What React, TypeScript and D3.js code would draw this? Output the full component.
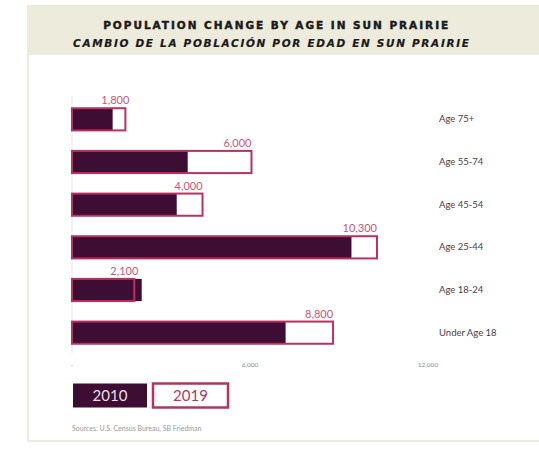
import React from "react";
import * as d3 from "d3";

const categories = ["Age 75+", "Age 55-74", "Age 45-54", "Age 25-44", "Age 18-24", "Under Age 18"];
const values2010 = [1370, 3900, 3530, 9420, 2350, 7200];
const values2019 = [1800, 6050, 4400, 10280, 2100, 8800];
const labels2019 = ["1,800", "6,000", "4,000", "10,300", "2,100", "8,800"];
const tickValues = [0, 6000, 12000];
const tickLabels = ["-", "6,000", "12,000"];
const legendLabels = ["2010", "2019"];
const title = "POPULATION CHANGE BY AGE IN SUN PRAIRIE";
const subtitle = "CAMBIO DE LA POBLACIÓN POR EDAD EN SUN PRAIRIE";
const source = "Sources: U.S. Census Bureau, SB Friedman";

const W = 539;
const H = 450;
const DARK = "#3d0d33";
const PINK = "#b8325f";
const PINK_TEXT = "#c8557d";
const BEIGE = "#ecebdc";

export default function App() {
  const x = d3.scaleLinear().domain([0, 12000]).range([72, 428]);
  const y = d3
    .scaleBand<string>()
    .domain(categories)
    .range([98, 354])
    .paddingInner(0.48)
    .paddingOuter(0.24);
  const bw = y.bandwidth();
  const font = "Lato, 'Open Sans', 'DejaVu Sans', sans-serif";
  const titleFont = "'DejaVu Sans', Roboto, sans-serif";

  return (
    <svg
      width={W}
      height={H}
      style={{ position: "absolute", left: 0, top: 0, background: "#fff" }}
      fontFamily={font}
    >
      {/* panel */}
      <rect x={28} y={6} width={W - 28 + 4} height={435} fill="#fff" stroke="#eceedd" strokeWidth={2} />
      <rect x={27} y={6} width={W - 27} height={49} fill={BEIGE} />
      <text
        x={275.7}
        y={28.5}
        textAnchor="middle"
        fontSize={10.5}
        fontWeight={700}
        fontFamily={titleFont}
        fill="#1a1a1a"
        stroke="#1a1a1a"
        strokeWidth={0.45}
        textLength={345}
        lengthAdjust="spacing"
      >
        {title}
      </text>
      <text
        x={271}
        y={47}
        textAnchor="middle"
        fontSize={10.5}
        fontWeight={700}
        fontStyle="italic"
        fontFamily={titleFont}
        fill="#1a1a1a"
        stroke="#1a1a1a"
        strokeWidth={0.2}
        textLength={396}
        lengthAdjust="spacing"
      >
        {subtitle}
      </text>

      {/* axis line */}
      <line x1={x(0)} x2={x(0)} y1={96} y2={353} stroke="#e6e6e6" strokeWidth={1} />

      {/* bars */}
      {categories.map((c, i) => {
        const y0 = y(c) as number;
        return (
          <g key={c}>
            <rect x={x(0)} y={y0} width={x(values2019[i]) - x(0)} height={bw} fill="#fff" />
            <rect x={x(0)} y={y0} width={x(values2010[i]) - x(0)} height={bw} fill={DARK} />
            <rect
              x={x(0)}
              y={y0}
              width={x(values2019[i]) - x(0)}
              height={bw}
              fill="none"
              stroke={PINK}
              strokeWidth={2}
            />
            <text
              x={x(values2019[i]) + (values2019[i] < 3000 ? 4 : 0)}
              y={y0 - 4}
              textAnchor="end"
              fontSize={11}
              fill={PINK_TEXT}
            >
              {labels2019[i]}
            </text>
            <text x={439} y={y0 + bw / 2 + 3} fontSize={9.5} fill="#4b3b4b">
              {c}
            </text>
          </g>
        );
      })}

      {/* ticks */}
      {tickValues.map((v, i) => (
        <text key={v} x={x(v)} y={367} textAnchor="middle" fontSize={6.5} fill="#8c8c8c">
          {tickLabels[i]}
        </text>
      ))}

      {/* legend */}
      <rect x={73} y={383.5} width={74} height={24} fill={DARK} />
      <text x={110} y={401} textAnchor="middle" fontSize={15} fill="#eadfe8">
        {legendLabels[0]}
      </text>
      <rect x={153} y={383.5} width={75} height={24} fill="#fff" stroke={PINK} strokeWidth={2.5} />
      <text x={190.5} y={401} textAnchor="middle" fontSize={15} fill={PINK}>
        {legendLabels[1]}
      </text>

      <text x={72} y={430.5} fontSize={7} fill="#9a9a9a">
        {source}
      </text>
    </svg>
  );
}
